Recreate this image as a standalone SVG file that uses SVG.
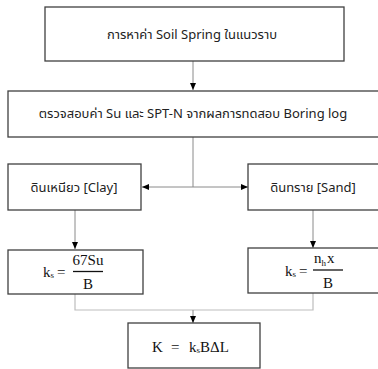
<svg xmlns="http://www.w3.org/2000/svg" width="378" height="369" viewBox="0 0 378 369">
<defs>
<marker id="ah" markerWidth="8" markerHeight="8" refX="7" refY="4" orient="auto" markerUnits="userSpaceOnUse">
<path d="M0,1 L7,4 L0,7 Z" fill="#000"/>
</marker>
<style>
.box{fill:#fff;stroke:#404040;stroke-width:1.3}
.th{font-family:"Noto Sans Thai","Noto Sans","DejaVu Sans",sans-serif;font-size:13px;fill:#222;text-anchor:middle}
.m{font-family:"Liberation Serif","Times New Roman",serif;font-size:15px;fill:#111}
.c1{fill:none;stroke:#8a8a8a;stroke-width:1}
.c2{fill:none;stroke:#bdbdbd;stroke-width:1.2}
</style>
</defs>
<rect width="378" height="369" fill="#fff"/>
<g id="connectors">
<path class="c1" d="M193,61 V90" marker-end="url(#ah)"/>
<path class="c1" d="M193,137 V187"/>
<path class="c1" d="M193,187 H142" marker-end="url(#ah)"/>
<path class="c1" d="M193,187 H248" marker-end="url(#ah)"/>
<path class="c1" d="M75,210 V249" marker-end="url(#ah)"/>
<path class="c1" d="M313,210 V248" marker-end="url(#ah)"/>
<path class="c2" d="M75,294 V310 H313 V293"/>
<path class="c1" d="M193,310 V323" marker-end="url(#ah)"/>
</g>
<g id="n1">
<rect class="box" x="45" y="7" width="299" height="54"/>
<text class="th" x="192" y="39">การหาค่า Soil Spring ในแนวราบ</text>
</g>
<g id="n2">
<rect class="box" x="8" y="91" width="380" height="46"/>
<text class="th" x="193" y="118">ตรวจสอบค่า Su และ SPT-N จากผลการทดสอบ Boring log</text>
</g>
<g id="n3">
<rect class="box" x="8" y="164" width="133" height="46"/>
<text class="th" x="74" y="192">ดินเหนียว [Clay]</text>
</g>
<g id="n4">
<rect class="box" x="248" y="164" width="140" height="46"/>
<text class="th" x="313" y="192">ดินทราย [Sand]</text>
</g>
<g id="n5">
<rect class="box" x="8" y="250" width="135" height="44"/>
<text class="m" x="43" y="277">k<tspan font-size="9" dy="1">s</tspan><tspan dy="-1" x="57">=</tspan></text>
<text class="m" x="88" y="265" text-anchor="middle">67Su</text>
<line x1="73" y1="271.5" x2="103" y2="271.5" stroke="#111" stroke-width="1.3"/>
<text class="m" x="88" y="289" text-anchor="middle" font-size="13">B</text>
</g>
<g id="n6">
<rect class="box" x="248" y="248" width="140" height="45"/>
<text class="m" x="285" y="276">k<tspan font-size="9" dy="1">s</tspan><tspan dy="-1" x="299">=</tspan></text>
<text class="m" x="314" y="263">n<tspan font-size="9" dy="3">h</tspan><tspan dy="-3" dx="1">x</tspan></text>
<line x1="313" y1="270" x2="343" y2="270" stroke="#111" stroke-width="1.3"/>
<text class="m" x="328" y="288" text-anchor="middle" font-size="13">B</text>
</g>
<g id="n7">
<rect class="box" x="128" y="323" width="132" height="45"/>
<text class="m" x="152" y="352" font-size="16">K<tspan x="171">=</tspan><tspan x="189">k</tspan><tspan font-size="9" dy="1">s</tspan><tspan dy="-1">BΔL</tspan></text>
</g>
</svg>
